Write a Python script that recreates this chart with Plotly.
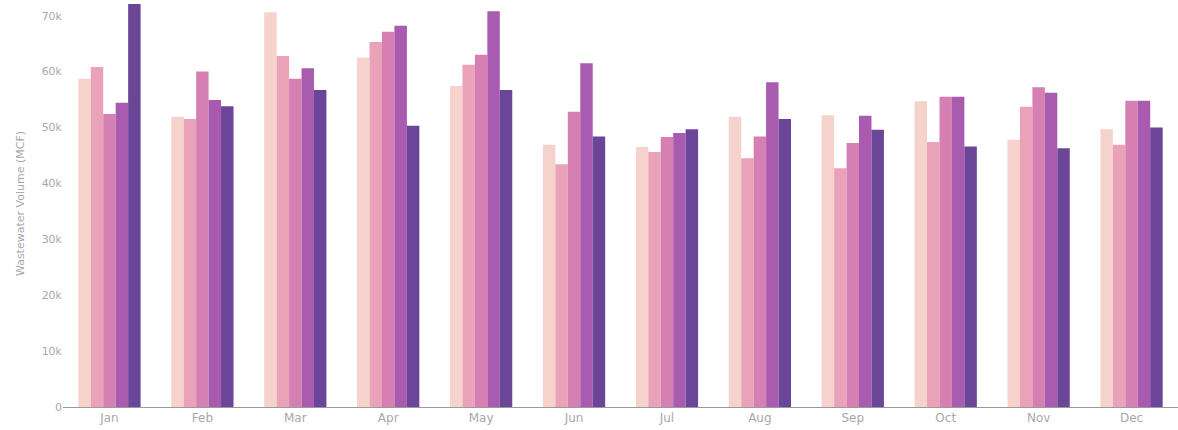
import plotly.graph_objects as go

months = ["Jan", "Feb", "Mar", "Apr", "May", "Jun", "Jul", "Aug", "Sep", "Oct", "Nov", "Dec"]

series_names = ["Year 1", "Year 2", "Year 3", "Year 4", "Year 5"]

year1 = [58700, 51900, 70600, 62500, 57400, 46900, 46500, 51900, 52200, 54700, 47800, 49700]
year2 = [60800, 51500, 62800, 65300, 61200, 43400, 45600, 44500, 42700, 47400, 53700, 46900]
year3 = [52400, 60000, 58700, 67100, 63000, 52800, 48300, 48400, 47200, 55500, 57200, 54800]
year4 = [54400, 54900, 60600, 68200, 70800, 61500, 49000, 58100, 52100, 55500, 56200, 54800]
year5 = [72100, 53800, 56700, 50300, 56700, 48400, 49700, 51500, 49600, 46600, 46300, 50000]

colors = ["#f6d2cd", "#eaa2b8", "#d57fb2", "#a95bb0", "#6b4598"]

fig = go.Figure()
for name, vals, col in zip(series_names, [year1, year2, year3, year4, year5], colors):
    fig.add_trace(go.Bar(x=months, y=vals, name=name, marker=dict(color=col, line=dict(width=0))))

fig.update_layout(
    width=1178, height=430,
    barmode="group", bargap=0.33, bargroupgap=0,
    showlegend=False,
    plot_bgcolor="white", paper_bgcolor="white",
    margin=dict(l=63, r=0, t=0, b=23),
    font=dict(family="DejaVu Sans", size=11, color="#a8a8a8"),
    xaxis=dict(showgrid=False, showline=True, linecolor="#9a9a9a", linewidth=1,
               ticks="", automargin=False, tickfont=dict(size=12, color="#a8a8a8")),
    yaxis=dict(showgrid=False, zeroline=False, range=[0, 72800], automargin=False,
               tickvals=[0, 10000, 20000, 30000, 40000, 50000, 60000, 70000],
               ticktext=["0", "10k", "20k", "30k", "40k", "50k", "60k", "70k"],
               tickfont=dict(size=11, color="#a8a8a8"),
               title=dict(text="Wastewater Volume (MCF)", font=dict(size=11, color="#a8a8a8"), standoff=14)),
)

fig.write_html("out.html", config={"displayModeBar": False},
               post_script="document.body.style.margin='0px';")
